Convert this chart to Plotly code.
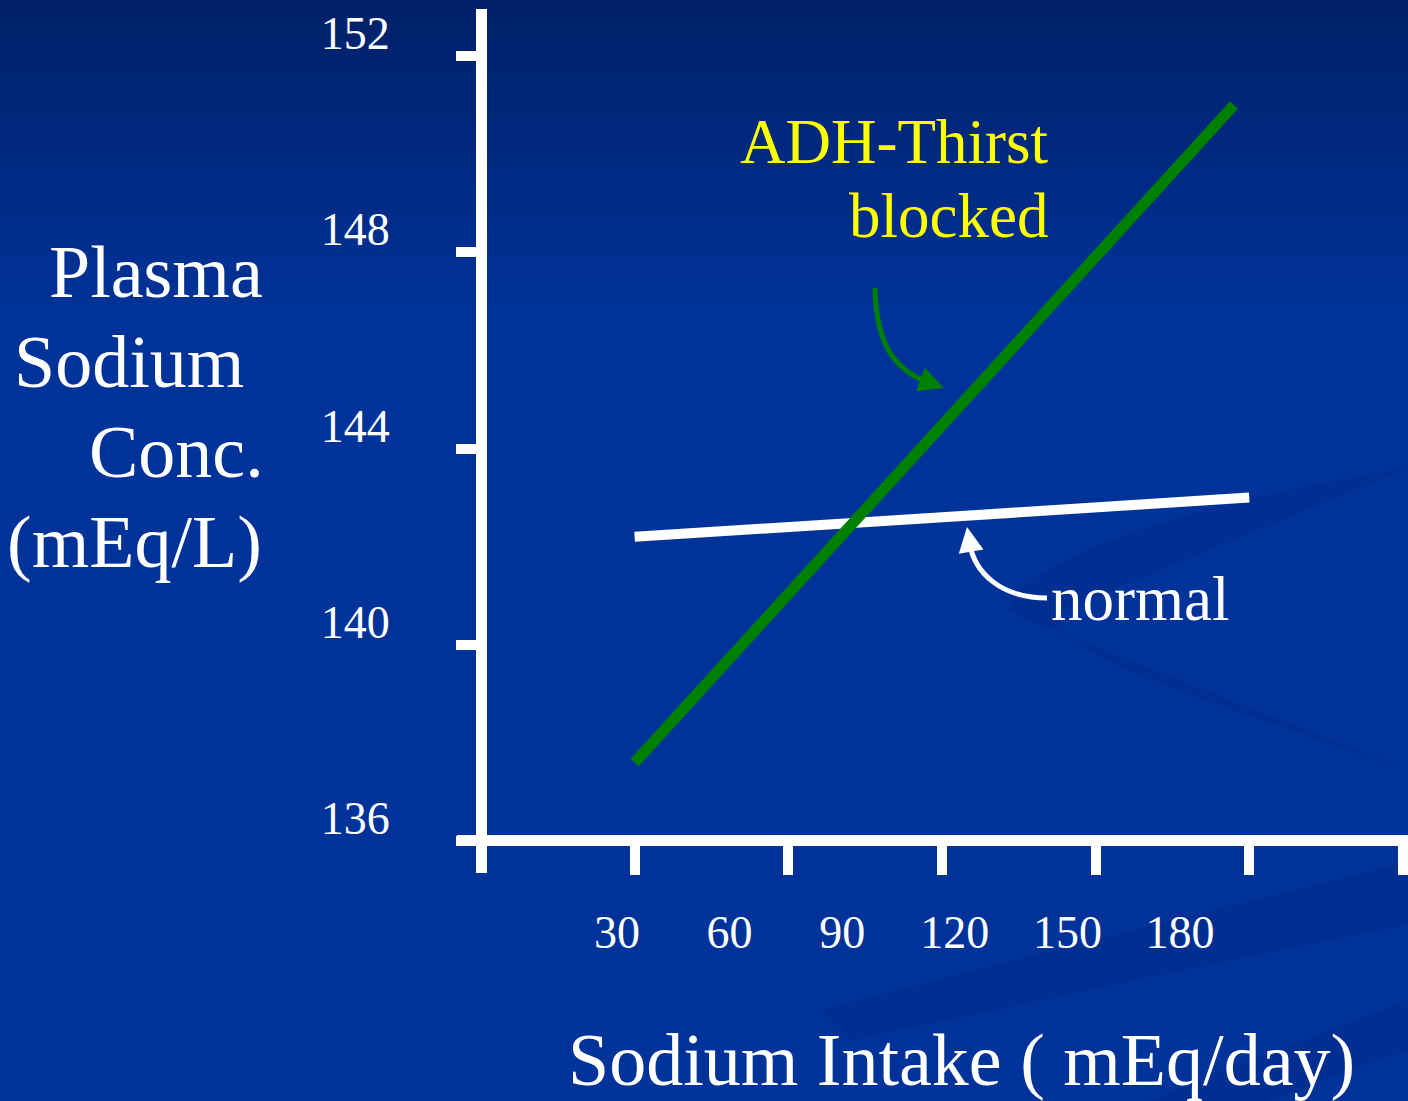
import plotly.graph_objects as go

# data
x_ticks = [30, 60, 90, 120, 150, 180]
x_labels = ['30', '60', '90', '120', '150', '180']
y_ticks = [136, 140, 144, 148, 152]
y_labels = ['136', '140', '144', '148', '152']

normal_x = [30, 150]
normal_y = [142.2, 143.0]
blocked_x = [30, 147]
blocked_y = [137.6, 151.0]

FONT = "Liberation Serif"
BG = "#003399"
GREEN = "#008000"
W, H = 1408, 1101
L, R, T, B = 481, 0, 9, 260
PW, PH = W - L - R, H - T - B


def px(x):
    return (x - L) / PW


def py(y):
    return (H - B - y) / PH


def path(points):
    (x0, y0), rest = points[0], points[1:]
    s = f"M {px(x0)},{py(y0)} C "
    s += " ".join(f"{px(a)},{py(b)}" for a, b in rest)
    return s


fig = go.Figure()

fig.add_trace(go.Scatter(x=normal_x, y=normal_y, mode='lines',
                         line=dict(color='white', width=10),
                         hoverinfo='skip', showlegend=False))
fig.add_trace(go.Scatter(x=blocked_x, y=blocked_y, mode='lines',
                         line=dict(color=GREEN, width=11),
                         hoverinfo='skip', showlegend=False))
# invisible trace carrying the label axis
fig.add_trace(go.Scatter(x=x_ticks, y=[y_ticks[0]] * len(x_ticks), xaxis='x2',
                         mode='markers', marker=dict(opacity=0),
                         hoverinfo='skip', showlegend=False))

shapes = []
# background gradient, darker at the top
n = 32
for i in range(n):
    f = i / (n - 1)
    g = int(33 + (51 - 33) * f)
    b = int(105 + (153 - 105) * f)
    shapes.append(dict(type='rect', xref='paper', yref='paper', layer='below',
                       x0=px(0), x1=px(W), y0=py(i * 10), y1=py(i * 10 + 11),
                       fillcolor=f'rgb(0,{g},{b})', line=dict(width=0)))
# faint swooshes in the lower right
swoosh = dict(type='path', xref='paper', yref='paper', layer='below',
              fillcolor='rgba(0,20,90,0.12)', line=dict(width=0))
shapes.append(dict(swoosh, path=path([(1408, 468), (1200, 500), (1015, 560), (1008, 612),
                                       (1000, 665), (1150, 705), (1408, 792)])
                   + " L " + f"{px(1408)},{py(770)} C " +
                   f"{px(1170)},{py(690)} {px(1050)},{py(650)} {px(1060)},{py(612)} " +
                   f"{px(1075)},{py(565)} {px(1230)},{py(525)} {px(1408)},{py(500)} Z"))
shapes.append(dict(swoosh, path=f"M {px(820)},{py(1010)} C {px(1050)},{py(950)} "
                                f"{px(1250)},{py(900)} {px(1408)},{py(862)} L {px(1408)},{py(925)} "
                                f"C {px(1250)},{py(955)} {px(1050)},{py(1000)} {px(850)},{py(1040)} Z"))
shapes.append(dict(swoosh, path=f"M {px(1150)},{py(1101)} C {px(1250)},{py(1060)} "
                                f"{px(1330)},{py(1030)} {px(1408)},{py(1000)} L {px(1408)},{py(1050)} "
                                f"C {px(1350)},{py(1070)} {px(1300)},{py(1090)} {px(1270)},{py(1101)} Z"))
# axis lines, crossing like on the slide
shapes.append(dict(type='line', xref='paper', yref='paper',
                   x0=px(481.5), x1=px(481.5), y0=py(9), y1=py(873),
                   line=dict(color='white', width=11)))
shapes.append(dict(type='line', xref='paper', yref='paper',
                   x0=px(457), x1=px(W), y0=py(840.5), y1=py(840.5),
                   line=dict(color='white', width=11)))
# curved pointer lines
shapes.append(dict(type='path', xref='paper', yref='paper',
                   path=path([(875, 288), (876, 345), (895, 372), (933, 384)]),
                   line=dict(color=GREEN, width=5)))
shapes.append(dict(type='path', xref='paper', yref='paper',
                   path=path([(1047, 598), (1000, 598), (975, 572), (970, 545)]),
                   line=dict(color='white', width=5)))

annotations = []


def text(s, x, y, size, color='white', xanchor='left'):
    annotations.append(dict(text=s, x=px(x), y=py(y), xref='paper', yref='paper',
                            xanchor=xanchor, yanchor='middle', showarrow=False,
                            font=dict(family=FONT, size=size, color=color)))


text('Plasma', 47, 272, 74)
text('Sodium', 12, 362, 74)
text('Conc.', 87, 452, 74)
text('(mEq/L)', 5, 542, 74)
text('Sodium Intake ( mEq/day)', 961, 1060, 74, xanchor='center')
text('ADH-Thirst', 1050, 142, 63, color='yellow', xanchor='right')
text('blocked', 1050, 216, 63, color='yellow', xanchor='right')
text('normal', 1049, 599, 63)

# arrow heads
annotations.append(dict(x=px(944), y=py(388), xref='paper', yref='paper', text='',
                        showarrow=True, ax=-11, ay=-4, arrowhead=2, arrowsize=1,
                        arrowwidth=5, arrowcolor=GREEN))
annotations.append(dict(x=px(967), y=py(527), xref='paper', yref='paper', text='',
                        showarrow=True, ax=3, ay=18, arrowhead=2, arrowsize=1,
                        arrowwidth=5, arrowcolor='white'))

fig.update_layout(
    width=W, height=H,
    margin=dict(l=L, r=R, t=T, b=B),
    paper_bgcolor=BG,
    plot_bgcolor='rgba(0,0,0,0)',
    font=dict(family=FONT, color='white'),
    shapes=shapes,
    annotations=annotations,
    xaxis=dict(range=[0, 181], tickvals=x_ticks, showticklabels=False,
               ticks='outside', ticklen=33, tickwidth=10, tickcolor='white',
               showline=False, showgrid=False, zeroline=False),
    xaxis2=dict(overlaying='x', anchor='y', side='bottom', range=[-6.2, 240.7],
                tickvals=x_ticks, ticktext=x_labels, ticks='', ticklabelstandoff=60,
                tickfont=dict(family=FONT, size=46, color='white'),
                showline=False, showgrid=False, zeroline=False),
    yaxis=dict(range=[136, 152.96], tickvals=y_ticks, ticktext=y_labels,
               ticks='outside', ticklen=24, tickwidth=10, tickcolor='white',
               ticklabelshift=-23, ticklabelstandoff=57,
               tickfont=dict(family=FONT, size=46, color='white'),
               showline=False, showgrid=False, zeroline=False),
)

fig.write_html("out.html", config={'displayModeBar': False},
               post_script="document.body.style.margin='0';"
                           "document.body.style.overflow='hidden';")
